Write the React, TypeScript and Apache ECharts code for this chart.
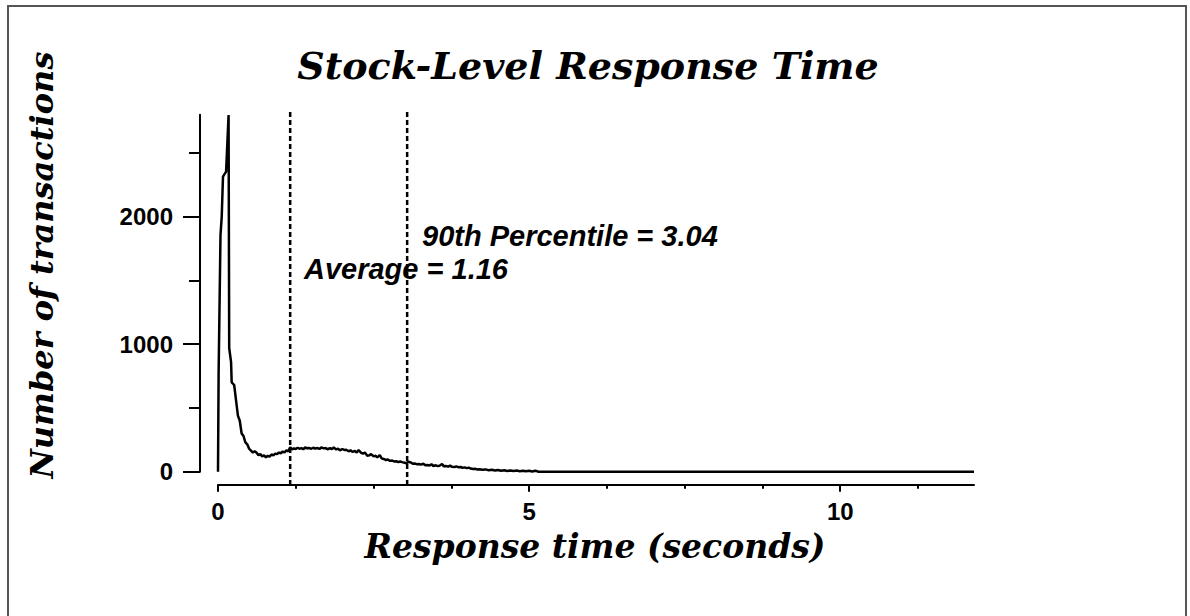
import React, { useEffect, useRef } from "react";
import * as echarts from "echarts";

// Histogram of response times (seconds) -> number of transactions
const times = [
  0.0, 0.01, 0.04, 0.06, 0.08, 0.13, 0.17, 0.18, 0.21, 0.22, 0.26, 0.29, 0.32, 0.35, 0.38, 0.41,
  0.44, 0.47, 0.5, 0.53, 0.56, 0.59, 0.62, 0.65, 0.68, 0.71, 0.74, 0.77, 0.8, 0.83, 0.86, 0.89,
  0.92, 0.95, 0.98, 1.01, 1.04, 1.07, 1.1, 1.13, 1.16, 1.19, 1.22, 1.25, 1.28, 1.31, 1.34, 1.37,
  1.4, 1.43, 1.46, 1.5, 1.53, 1.56, 1.6, 1.63, 1.66, 1.7, 1.73, 1.76, 1.8, 1.83, 1.86, 1.9,
  1.93, 1.96, 2.0, 2.03, 2.06, 2.1, 2.13, 2.16, 2.2, 2.23, 2.26, 2.3, 2.33, 2.36, 2.4, 2.43,
  2.46, 2.5, 2.53, 2.56, 2.6, 2.63, 2.66, 2.7, 2.73, 2.76, 2.8, 2.83, 2.86, 2.9, 2.93, 2.96,
  3.0, 3.03, 3.06, 3.1, 3.13, 3.16, 3.2, 3.23, 3.26, 3.3, 3.33, 3.36, 3.4, 3.43, 3.46, 3.5,
  3.53, 3.56, 3.6, 3.63, 3.66, 3.7, 3.73, 3.76, 3.8, 3.83, 3.86, 3.9, 3.93, 3.96, 4.0, 4.03,
  4.06, 4.1, 4.13, 4.16, 4.2, 4.25, 4.3, 4.35, 4.4, 4.45, 4.5, 4.55, 4.6, 4.65, 4.7, 4.75,
  4.8, 4.85, 4.9, 4.95, 5.0, 5.05, 5.1, 5.15, 12.15,
];
const counts = [
  0, 780, 1855, 2000, 2314, 2353, 2798, 970, 860, 700, 680, 560, 440, 400, 300, 280,
  230, 215, 180, 165, 150, 160, 148, 130, 138, 120, 128, 112, 125, 118, 135, 128,
  142, 138, 150, 145, 158, 152, 168, 160, 192, 175, 182, 178, 188, 180, 185, 176,
  190, 184, 186, 180, 188, 182, 186, 178, 190, 183, 185, 176, 184, 178, 190, 175,
  180, 168, 178, 170, 172, 160, 168, 155, 162, 150, 170, 148, 142, 150, 125, 128,
  138, 120, 125, 112, 130, 105, 100, 92, 96, 85, 88, 80, 82, 76, 80, 75,
  70, 66, 78, 72, 62, 65, 58, 60, 55, 62, 50, 52, 48, 58, 45, 50,
  44, 47, 60, 42, 45, 40, 48, 38, 36, 42, 35, 37, 30, 34, 28, 32,
  25, 22, 24, 18, 20, 16, 18, 12, 15, 10, 14, 8, 12, 6, 10, 5,
  9, 4, 8, 3, 7, 2, 8, 0, 0,
];

const average = 1.16;
const percentile90 = 3.04;
const xMajorTicks = [0, 5, 10];
const xMinorTicks = [1.25, 2.5, 3.75, 6.25, 7.5, 8.75, 11.25];
const yMajorTicks = [0, 1000, 2000];
const yMinorTicks = [500, 1500, 2500];
const xMax = 12.15;
const yMax = 2800;
const refLineBottom = -104;
const refLineTop = 2830;

const titleText = "Stock-Level Response Time";
const xName = "Response time (seconds)";
const yName = "Number of transactions";
const avgLabel = "Average = 1.16";
const p90Label = "90th Percentile = 3.04";

const SERIF = "'DejaVu Serif', serif";
const SANS = "'Liberation Sans', Arial, sans-serif";

export default function App() {
  const ref = useRef<HTMLDivElement>(null);
  useEffect(() => {
    if (!ref.current) return;
    const chart = echarts.init(ref.current, undefined, { renderer: "svg" });
    const data = times.map((t, i) => [t, counts[i]]);
    const labelStyle = {
      fontFamily: SANS,
      fontWeight: "bold" as const,
      fontSize: 24,
      color: "#000",
      formatter: (v: number) => String(v),
    };
    const nameStyle = {
      fontFamily: SERIF,
      fontWeight: "bold" as const,
      fontStyle: "italic" as const,
      fill: "#000",
      align: "center" as const,
      verticalAlign: "middle" as const,
    };
    const annStyle = {
      fontFamily: SANS,
      fontWeight: "bold" as const,
      fontStyle: "italic" as const,
      fontSize: 29,
      fill: "#000",
      align: "left" as const,
      verticalAlign: "middle" as const,
    };
    const axisLine = { show: true, onZero: false, lineStyle: { color: "#000", width: 2 } };
    const hiddenLine = { show: false, onZero: false };
    chart.setOption({
      animation: false,
      backgroundColor: "#fff",
      grid: { left: 218, right: 216, top: 114.7, bottom: 144.3, containLabel: false },
      xAxis: [
        {
          type: "value",
          min: 0,
          max: xMax,
          offset: 13,
          axisLine,
          axisTick: { show: true, customValues: xMajorTicks, length: 7, lineStyle: { color: "#000", width: 2 } },
          axisLabel: { show: true, customValues: xMajorTicks, margin: 15, ...labelStyle },
          splitLine: { show: false },
        },
        {
          type: "value",
          min: 0,
          max: xMax,
          offset: 13,
          position: "bottom",
          axisLine: hiddenLine,
          axisTick: { show: true, customValues: xMinorTicks, length: 4, lineStyle: { color: "#000", width: 2 } },
          axisLabel: { show: false },
          splitLine: { show: false },
        },
      ],
      yAxis: [
        {
          type: "value",
          min: 0,
          max: yMax,
          offset: 18,
          axisLine,
          axisTick: { show: true, customValues: yMajorTicks, length: 17, lineStyle: { color: "#000", width: 2 } },
          axisLabel: { show: true, customValues: yMajorTicks, margin: 27, ...labelStyle },
          splitLine: { show: false },
        },
        {
          type: "value",
          min: 0,
          max: yMax,
          offset: 18,
          position: "left",
          axisLine: hiddenLine,
          axisTick: { show: true, customValues: yMinorTicks, length: 11, lineStyle: { color: "#000", width: 2 } },
          axisLabel: { show: false },
          splitLine: { show: false },
        },
      ],
      series: [
        {
          type: "line",
          data,
          xAxisIndex: 0,
          yAxisIndex: 0,
          showSymbol: false,
          symbol: "none",
          lineStyle: { color: "#000", width: 2.5 },
          clip: false,
        },
        {
          type: "line",
          data: [[average, refLineBottom], [average, refLineTop]],
          showSymbol: false,
          symbol: "none",
          clip: false,
          lineStyle: { color: "#000", width: 2.5, type: [5, 3] },
        },
        {
          type: "line",
          data: [[percentile90, refLineBottom], [percentile90, refLineTop]],
          showSymbol: false,
          symbol: "none",
          clip: false,
          lineStyle: { color: "#000", width: 2.5, type: [5, 3] },
        },
      ],
      graphic: [
        {
          type: "rect",
          shape: { x: 8, y: 6, width: 1178, height: 660 },
          style: { fill: "none", stroke: "#555", lineWidth: 2 },
          silent: true,
        },
        { type: "text", x: 588, y: 65, style: { text: titleText, fontSize: 38, ...nameStyle } },
        { type: "text", x: 595, y: 546, style: { text: xName, fontSize: 33, ...nameStyle } },
        { type: "text", x: 42, y: 265, rotation: Math.PI / 2, style: { text: yName, fontSize: 32, ...nameStyle } },
        { type: "text", x: 422, y: 236, style: { text: p90Label, ...annStyle } },
        { type: "text", x: 304, y: 269, style: { text: avgLabel, ...annStyle } },
      ],
    });
    return () => chart.dispose();
  }, []);
  return <div ref={ref} style={{ position: "absolute", left: 0, top: 0, width: 1190, height: 616 }} />;
}
